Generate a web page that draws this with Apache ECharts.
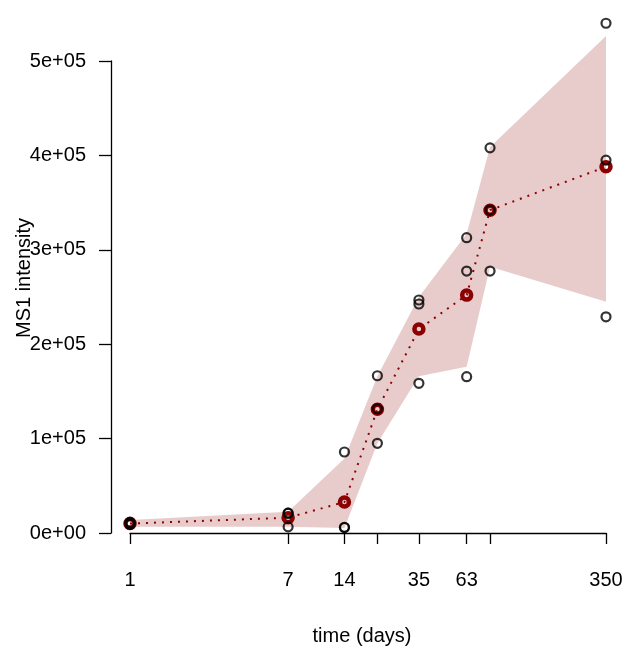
<!DOCTYPE html>
<html>
<head>
<meta charset="utf-8">
<script src="https://cdn.jsdelivr.net/npm/echarts@6/dist/echarts.min.js"></script>
<style>
html,body{margin:0;padding:0;background:#fff;}
#chart{width:635px;height:658px;}
</style>
</head>
<body>
<div id="chart"></div>
<script>
// time points (days)
const days = [1, 7, 14, 21, 35, 63, 84, 350];
// individual replicate measurements (MS1 intensity)
const rep1 = [11500, 21000, 85800, 166600, 246800, 312800, 408000, 540000];
const rep2 = [10000, 21000, 6000, 131500, 242600, 277500, 342000, 395000];
const rep3 = [9000, 6500, 5800, 95000, 158600, 165600, 277500, 229000];
// mean per time point
const means = [10000, 16200, 32800, 131000, 216000, 252000, 342000, 388000];
// ribbon bounds
const upper = [13800, 22600, 79000, 166000, 250000, 317000, 409000, 526500];
const lower = [6700, 6700, 5300, 95000, 166000, 176000, 282000, 245000];
// axis ticks
const xTicks = [1, 7, 14, 21, 35, 63, 84, 350];
const xLabels = [1, 7, 14, 35, 63, 350];
const yTicks = [0, 100000, 200000, 300000, 400000, 500000];

const FONT = 'Liberation Sans';
const DARKRED = '#8B0000';

function sci(v) {
  if (v === 0) return '0e+00';
  const e = Math.floor(Math.log10(Math.abs(v)));
  const m = Math.round(v / Math.pow(10, e));
  return m + 'e' + (e >= 0 ? '+' : '-') + String(Math.abs(e)).padStart(2, '0');
}

const points = [];
[rep1, rep2, rep3].forEach(r => r.forEach((v, i) => points.push([days[i], v])));

const ribbonData = days.map((d, i) => [d, upper[i], lower[i]]);

const chart = echarts.init(document.getElementById('chart'), null, {renderer: 'canvas'});
chart.setOption({
  animation: false,
  backgroundColor: '#ffffff',
  textStyle: {fontFamily: FONT},
  grid: {left: 130, right: 29, top: 61, bottom: 125},
  xAxis: {
    type: 'log', logBase: 10, min: 1, max: 350, offset: 17,
    axisLine: {show: true, lineStyle: {color: '#000', width: 1.3}},
    axisTick: {show: true, length: 11, lineStyle: {color: '#000', width: 1.3}, customValues: xTicks},
    axisLabel: {show: true, customValues: xLabels, color: '#000', fontSize: 20, fontFamily: FONT, margin: 20,
      formatter: v => String(Math.round(v))},
    splitLine: {show: false}, minorTick: {show: false}, minorSplitLine: {show: false}
  },
  yAxis: {
    type: 'value', min: 0, max: 500000, interval: 100000, offset: 19,
    axisLine: {show: true, lineStyle: {color: '#000', width: 1.3}},
    axisTick: {show: true, length: 12, lineStyle: {color: '#000', width: 1.3}, customValues: yTicks},
    axisLabel: {show: true, customValues: yTicks, color: '#000', fontSize: 20, fontFamily: FONT, margin: 25,
      formatter: v => sci(v)},
    splitLine: {show: false}
  },
  graphic: [
    {type: 'text', x: 362, y: 636, style: {text: 'time (days)', font: '20px "Liberation Sans"', fill: '#000', align: 'center', verticalAlign: 'middle'}},
    {type: 'text', x: 24, y: 278, rotation: Math.PI / 2, style: {text: 'MS1 intensity', font: '20px "Liberation Sans"', fill: '#000', align: 'center', verticalAlign: 'middle'}}
  ],
  series: [
    {
      type: 'custom', clip: false, z: 1,
      data: ribbonData,
      encode: {x: 0, y: [1, 2]},
      renderItem: function (params, api) {
        if (params.dataIndex !== 0) return null;
        const pts = [];
        for (let i = 0; i < ribbonData.length; i++) pts.push(api.coord([ribbonData[i][0], ribbonData[i][1]]));
        for (let i = ribbonData.length - 1; i >= 0; i--) pts.push(api.coord([ribbonData[i][0], ribbonData[i][2]]));
        return {type: 'polygon', shape: {points: pts}, style: {fill: 'rgba(139,0,0,0.2)', stroke: null}};
      }
    },
    {
      type: 'line', clip: false, z: 3,
      data: days.map((d, i) => [d, means[i]]),
      symbol: 'circle', symbolSize: 9, showSymbol: true,
      lineStyle: {color: DARKRED, width: 2, type: [2, 6]},
      itemStyle: {color: 'rgba(0,0,0,0)', borderColor: DARKRED, borderWidth: 4.5},
      emphasis: {disabled: true}
    },
    {
      type: 'scatter', clip: false, z: 4,
      data: points,
      symbol: 'circle', symbolSize: 9,
      itemStyle: {color: 'rgba(0,0,0,0)', borderColor: '#000', borderWidth: 2.2},
      emphasis: {disabled: true}
    }
  ]
});
</script>
</body>
</html>
